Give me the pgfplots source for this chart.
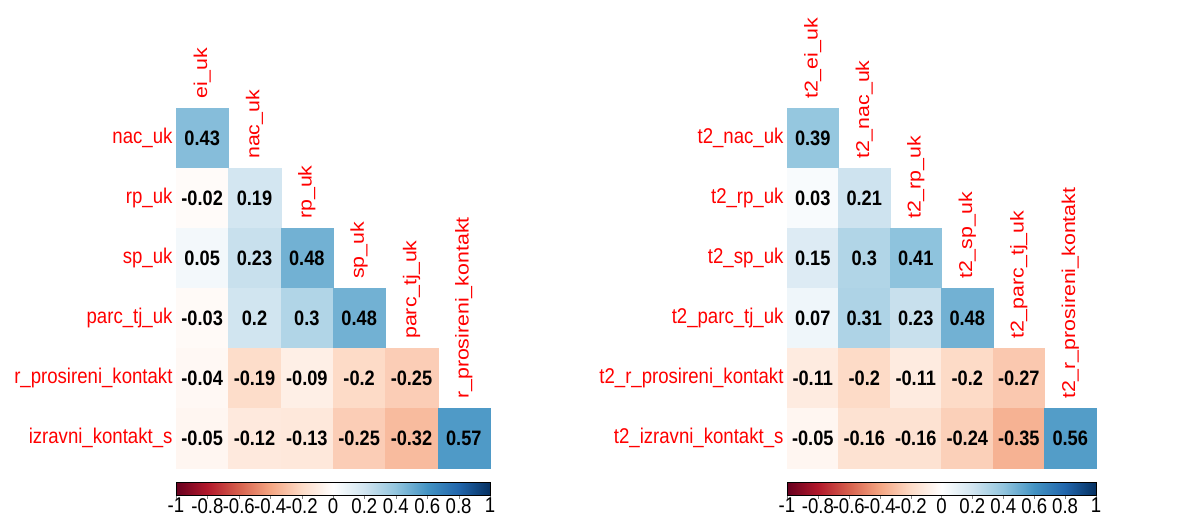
\documentclass[border=0pt]{standalone}
\usepackage{pgfplots}
\pgfplotsset{compat=1.18}
\usepackage{graphicx}
\usepackage{fontspec}
\setmainfont{Liberation Sans}

% the source image is stretched vertically
\newcommand\vs[1]{\scalebox{1}[1.147]{#1}}
\newcommand\hs[1]{\scalebox{1.147}[1]{#1}}
\newcommand\lab{\fontsize{18.6}{22}\selectfont}
\newcommand\cellnum{\fontsize{18.2}{22}\selectfont\bfseries}

% RdBu anchors at -1, -0.8, ..., 1
\definecolor{C0}{RGB}{103,0,31}
\definecolor{C1}{RGB}{178,24,43}
\definecolor{C2}{RGB}{214,96,77}
\definecolor{C3}{RGB}{244,165,130}
\definecolor{C4}{RGB}{253,219,199}
\definecolor{C5}{RGB}{255,255,255}
\definecolor{C6}{RGB}{209,229,240}
\definecolor{C7}{RGB}{146,197,222}
\definecolor{C8}{RGB}{67,147,195}
\definecolor{C9}{RGB}{33,102,172}
\definecolor{C10}{RGB}{5,48,97}

% one coloured cell: x, y, correlation, horizontal scale of the square
\newcommand\corcell[4]{%
  \pgfmathsetmacro\cct{(#3+1)*5}%
  \pgfmathtruncatemacro\cck{min(floor(\cct),9)}%
  \pgfmathtruncatemacro\cckk{\cck+1}%
  \pgfmathtruncatemacro\ccp{round((\cct-\cck)*100)}%
  \edef\cctmp{\noexpand\addplot[only marks, mark=square*, mark size=30pt,
    mark options={xscale=#4, line width=0.1pt}, color=C\cckk!\ccp!C\cck]
    coordinates {(#1,#2)};}%
  \cctmp}

\pgfplotsset{
  corr/.style={
    scale only axis, height=360pt,
    xmin=0.5, xmax=6.5, ymin=0.5, ymax=6.5,
    clip=false,
    axis line style={draw=none},
    xtick=\empty, ytick={1,...,6},
    major tick length=0pt,
    yticklabel style={red, font=\lab},
    colormap={RdBu}{rgb255=(103,0,31) rgb255=(178,24,43) rgb255=(214,96,77)
      rgb255=(244,165,130) rgb255=(253,219,199) rgb255=(255,255,255)
      rgb255=(209,229,240) rgb255=(146,197,222) rgb255=(67,147,195)
      rgb255=(33,102,172) rgb255=(5,48,97)},
    point meta min=-1, point meta max=1,
    colorbar horizontal,
    colorbar/width=13pt,
    colorbar style={
      at={(parent axis.south west)}, anchor=north west, yshift=-5.5pt,
      height=13pt,
      xtick={-1,-0.8,-0.6,-0.4,-0.2,0,0.2,0.4,0.6,0.8,1},
      ytick=\empty,
      xtick pos=left, xtick align=outside,
      major tick length=4pt,
      xtick style={gray},
      xticklabel style={font=\lab, black, inner sep=1pt, yshift=2pt},
      xticklabel={\vs{\pgfmathprintnumber[assume math mode=true]{\tick}}},
      axis line style={black, line width=0.8pt},
    },
  },
  vals/.style={
    only marks, mark=none,
    point meta=explicit symbolic,
    nodes near coords={\vs{\pgfplotspointmeta}},
    nodes near coords style={anchor=center, font=\cellnum, text=black},
  },
  cols/.style={
    only marks, mark=none,
    point meta=explicit symbolic,
    nodes near coords={\hs{\pgfplotspointmeta}},
    nodes near coords style={rotate=90, anchor=west, inner sep=0pt, red, font=\lab},
  },
}

\begin{document}
\begin{tikzpicture}
\path[use as bounding box] (0,0) rectangle (1186pt,515pt);

% row i of the matrix sits at y = 7-i
\begin{axis}[corr, width=314pt, at={(176pt,47pt)}, anchor=south west,
  yticklabels={\vs{izravni\_kontakt\_s}, \vs{r\_prosireni\_kontakt}, \vs{parc\_tj\_uk}, \vs{sp\_uk}, \vs{rp\_uk}, \vs{nac\_uk}}]
  \corcell{1}{6}{0.43}{0.872}
  \corcell{1}{5}{-0.02}{0.872} \corcell{2}{5}{0.19}{0.872}
  \corcell{1}{4}{0.05}{0.872}  \corcell{2}{4}{0.23}{0.872}  \corcell{3}{4}{0.48}{0.872}
  \corcell{1}{3}{-0.03}{0.872} \corcell{2}{3}{0.2}{0.872}   \corcell{3}{3}{0.3}{0.872}   \corcell{4}{3}{0.48}{0.872}
  \corcell{1}{2}{-0.04}{0.872} \corcell{2}{2}{-0.19}{0.872} \corcell{3}{2}{-0.09}{0.872} \corcell{4}{2}{-0.2}{0.872}  \corcell{5}{2}{-0.25}{0.872}
  \corcell{1}{1}{-0.05}{0.872} \corcell{2}{1}{-0.12}{0.872} \corcell{3}{1}{-0.13}{0.872} \corcell{4}{1}{-0.25}{0.872} \corcell{5}{1}{-0.32}{0.872} \corcell{6}{1}{0.57}{0.872}
  \addplot[vals] coordinates {
    (1,6)[0.43]
    (1,5)[-0.02] (2,5)[0.19]
    (1,4)[0.05]  (2,4)[0.23]  (3,4)[0.48]
    (1,3)[-0.03] (2,3)[0.2]   (3,3)[0.3]   (4,3)[0.48]
    (1,2)[-0.04] (2,2)[-0.19] (3,2)[-0.09] (4,2)[-0.2]  (5,2)[-0.25]
    (1,1)[-0.05] (2,1)[-0.12] (3,1)[-0.13] (4,1)[-0.25] (5,1)[-0.32] (6,1)[0.57]
  };
  \addplot[cols] coordinates {
    (1,6.65)[ei\_uk]
    (2,5.65)[nac\_uk]
    (3,4.65)[rp\_uk]
    (4,3.65)[sp\_uk]
    (5,2.65)[parc\_tj\_uk]
    (6,1.65)[r\_prosireni\_kontakt]
  };
\end{axis}

\begin{axis}[corr, width=309pt, at={(787pt,47pt)}, anchor=south west,
  yticklabels={\vs{t2\_izravni\_kontakt\_s}, \vs{t2\_r\_prosireni\_kontakt}, \vs{t2\_parc\_tj\_uk}, \vs{t2\_sp\_uk}, \vs{t2\_rp\_uk}, \vs{t2\_nac\_uk}}]
  \corcell{1}{6}{0.39}{0.858}
  \corcell{1}{5}{0.03}{0.858}  \corcell{2}{5}{0.21}{0.858}
  \corcell{1}{4}{0.15}{0.858}  \corcell{2}{4}{0.3}{0.858}   \corcell{3}{4}{0.41}{0.858}
  \corcell{1}{3}{0.07}{0.858}  \corcell{2}{3}{0.31}{0.858}  \corcell{3}{3}{0.23}{0.858}  \corcell{4}{3}{0.48}{0.858}
  \corcell{1}{2}{-0.11}{0.858} \corcell{2}{2}{-0.2}{0.858}  \corcell{3}{2}{-0.11}{0.858} \corcell{4}{2}{-0.2}{0.858}  \corcell{5}{2}{-0.27}{0.858}
  \corcell{1}{1}{-0.05}{0.858} \corcell{2}{1}{-0.16}{0.858} \corcell{3}{1}{-0.16}{0.858} \corcell{4}{1}{-0.24}{0.858} \corcell{5}{1}{-0.35}{0.858} \corcell{6}{1}{0.56}{0.858}
  \addplot[vals] coordinates {
    (1,6)[0.39]
    (1,5)[0.03]  (2,5)[0.21]
    (1,4)[0.15]  (2,4)[0.3]   (3,4)[0.41]
    (1,3)[0.07]  (2,3)[0.31]  (3,3)[0.23]  (4,3)[0.48]
    (1,2)[-0.11] (2,2)[-0.2]  (3,2)[-0.11] (4,2)[-0.2]  (5,2)[-0.27]
    (1,1)[-0.05] (2,1)[-0.16] (3,1)[-0.16] (4,1)[-0.24] (5,1)[-0.35] (6,1)[0.56]
  };
  \addplot[cols] coordinates {
    (1,6.65)[t2\_ei\_uk]
    (2,5.65)[t2\_nac\_uk]
    (3,4.65)[t2\_rp\_uk]
    (4,3.65)[t2\_sp\_uk]
    (5,2.65)[t2\_parc\_tj\_uk]
    (6,1.65)[t2\_r\_prosireni\_kontakt]
  };
\end{axis}
\end{tikzpicture}
\end{document}
